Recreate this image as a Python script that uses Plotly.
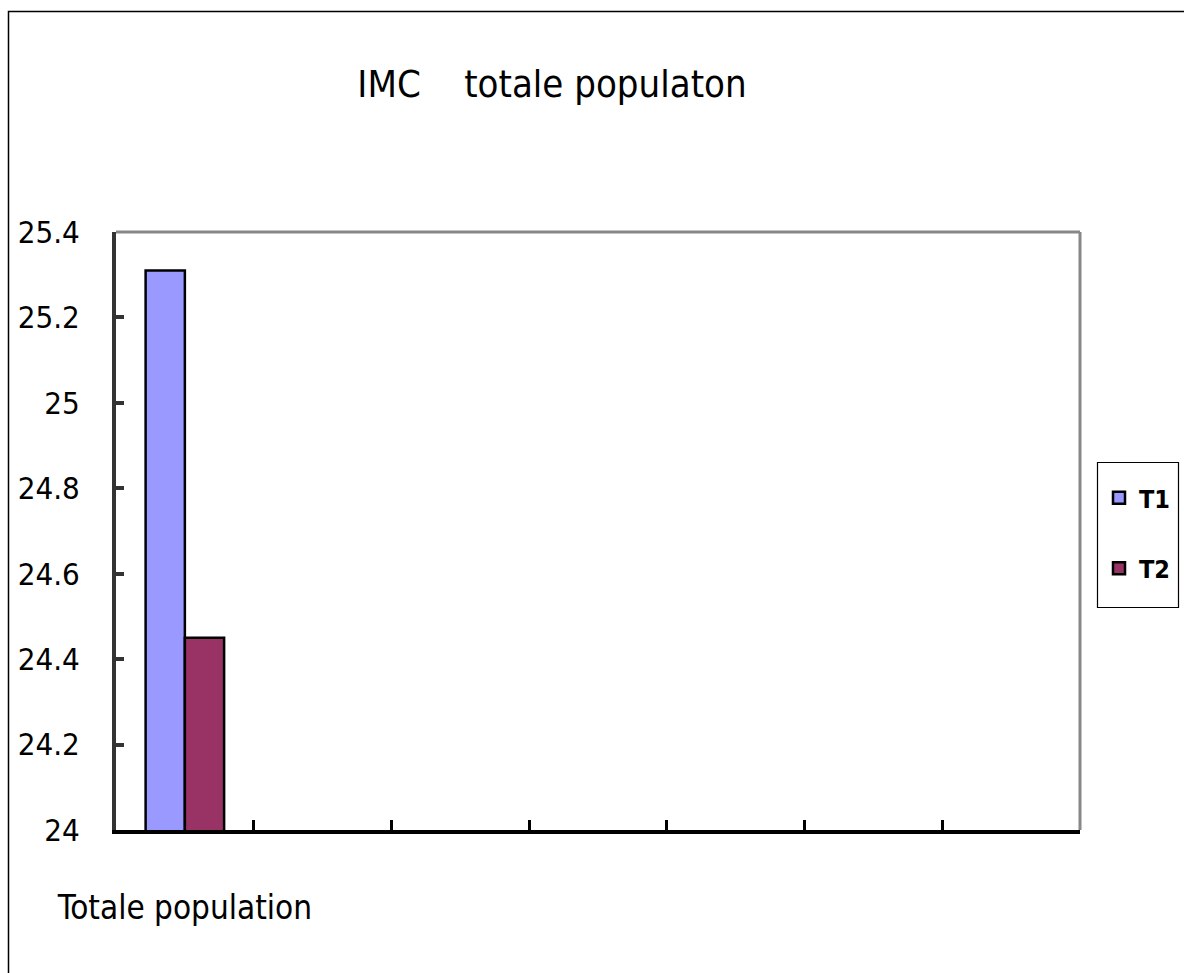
import plotly.graph_objects as go

# Category slots on the x axis (only the first one carries data)
categories = ["Totale population", " ", "  ", "   ", "    ", "     ", "      "]
series_names = ["T1", "T2"]
t1_values = [25.31]
t2_values = [24.45]
y_ticks = [24, 24.2, 24.4, 24.6, 24.8, 25, 25.2, 25.4]
y_tick_labels = ["24", "24.2", "24.4", "24.6", "24.8", "25", "25.2", "25.4"]

FONT = "DejaVu Sans Condensed, Liberation Sans Narrow, Arial Narrow, Liberation Sans, sans-serif"
W, H = 1184, 973
L, R, T, B = 116, 104, 232, 143

fig = go.Figure()
fig.add_trace(go.Bar(
    x=categories[:1], y=t1_values, name=series_names[0],
    marker=dict(color="#9999FF", line=dict(color="black", width=2.5)),
    legendgroup="a",
))
fig.add_trace(go.Bar(
    x=categories[:1], y=t2_values, name=series_names[1],
    marker=dict(color="#993366", line=dict(color="black", width=2.5)),
    legendgroup="b",
))

pw = W - L - R
ph = H - T - B

def px(x):
    return (x - L) / pw

def py(y):
    return (H - B - y) / ph

shapes = [
    # top and right frame of the plot area
    dict(type="line", xref="paper", yref="paper", x0=0, x1=1, y0=1, y1=1,
         line=dict(color="#888888", width=3)),
    dict(type="line", xref="paper", yref="paper", x0=1, x1=1, y0=0, y1=1,
         line=dict(color="#888888", width=3)),
    # outer chart border
    dict(type="rect", xref="paper", yref="paper",
         x0=px(8.5), x1=px(W + 20), y0=py(H + 20), y1=py(11.5),
         line=dict(color="black", width=1.5), layer="below"),
    # legend frame
    dict(type="rect", xref="paper", yref="paper",
         x0=px(1097.5), x1=px(1178.5), y0=py(607.5), y1=py(462.5),
         line=dict(color="black", width=1.2), layer="above"),
]

fig.update_layout(
    width=W, height=H,
    margin=dict(l=L, r=R, t=T, b=B, pad=0, autoexpand=False),
    paper_bgcolor="white", plot_bgcolor="white",
    barmode="group", bargap=0.43, bargroupgap=0,
    font=dict(family=FONT, color="black"),
    title=dict(
        text="IMC\u00a0\u00a0\u00a0\u00a0totale populaton",
        font=dict(family=FONT, size=38, color="black"),
        x=px(552), xanchor="center", xref="paper",
        y=1 - 84 / H, yanchor="middle", automargin=False,
    ),
    showlegend=True,
    legend=dict(
        x=px(1099), xanchor="left", y=py(533), yanchor="middle",
        bgcolor="rgba(0,0,0,0)", borderwidth=0,
        font=dict(family=FONT, size=25, color="black", weight="bold"),
        traceorder="grouped", tracegroupgap=35,
        itemwidth=30,
    ),
    shapes=shapes,
)

fig.update_xaxes(
    type="category", categoryorder="array", categoryarray=categories,
    range=[-0.5, len(categories) - 0.5],
    showgrid=False, zeroline=False, automargin=False,
    showline=True, linecolor="black", linewidth=4,
    ticks="inside", ticklen=10, tickwidth=3, tickcolor="black",
    tickson="boundaries", tickangle=0,
    tickfont=dict(family=FONT, size=33, color="black"),
    ticklabelstandoff=45,
)
fig.update_yaxes(
    range=[24, 25.4],
    tickvals=y_ticks, ticktext=y_tick_labels,
    showgrid=False, zeroline=False, automargin=False,
    showline=True, linecolor="#333333", linewidth=4,
    ticks="inside", ticklen=8, tickwidth=4, tickcolor="#333333",
    tickfont=dict(family=FONT, size=31, color="black"),
    ticklabelstandoff=26,
)

fig.write_html("out.html")
